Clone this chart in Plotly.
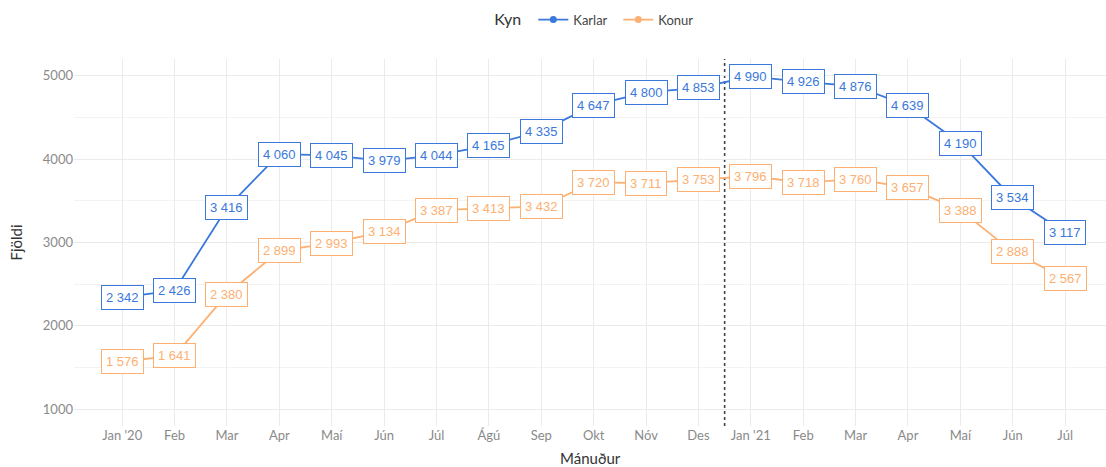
import plotly.graph_objects as go

months = ["Jan '20", "Feb", "Mar", "Apr", "Maí", "Jún", "Júl", "Ágú", "Sep", "Okt",
          "Nóv", "Des", "Jan '21", "Feb", "Mar", "Apr", "Maí", "Jún", "Júl"]
karlar = [2342, 2426, 3416, 4060, 4045, 3979, 4044, 4165, 4335, 4647, 4800, 4853,
          4990, 4926, 4876, 4639, 4190, 3534, 3117]
konur = [1576, 1641, 2380, 2899, 2993, 3134, 3387, 3413, 3432, 3720, 3711, 3753,
         3796, 3718, 3760, 3657, 3388, 2888, 2567]
y_ticks = [1000, 2000, 3000, 4000, 5000]

BLUE = "#3A78DB"
ORANGE = "#FDB072"

x = list(range(len(months)))


def fmt(v):
    return f"{v:,}".replace(",", " ")


fig = go.Figure()
for name, vals, col in [("Karlar", karlar, BLUE), ("Konur", konur, ORANGE)]:
    fig.add_trace(go.Scatter(x=x, y=vals, mode="lines+markers", name=name,
                             line=dict(color=col, width=1.8),
                             marker=dict(color=col, size=7)))

annotations = []
for vals, col in [(karlar, BLUE), (konur, ORANGE)]:
    for xi, v in zip(x, vals):
        annotations.append(dict(x=xi, y=v, xref="x", yref="y", text=fmt(v),
                                showarrow=False, bgcolor="white", bordercolor=col,
                                borderwidth=1, borderpad=4,
                                font=dict(family="Liberation Sans, Arial", size=13, color=col)))

annotations.append(dict(x=0.5, y=-0.087, xref="paper", yref="paper", text="Mánuður",
                        showarrow=False, xanchor="center", yanchor="middle",
                        font=dict(size=15, color="#333333")))

fig.add_shape(type="line", x0=11.5, x1=11.5, y0=0, y1=1, xref="x", yref="paper",
              line=dict(color="#444444", width=1.6, dash="dot"), layer="below")

fig.update_layout(
    width=1106, height=467,
    margin=dict(l=74, r=0, t=59, b=41, autoexpand=False),
    plot_bgcolor="white", paper_bgcolor="white",
    font=dict(family="Lato, sans-serif", color="#333333"),
    annotations=annotations,
    legend=dict(orientation="h", x=0.508, xanchor="center", y=0.99, yanchor="top",
                yref="container", entrywidth=40,
                title=dict(text="Kyn ", font=dict(size=16, color="#333333")),
                font=dict(size=13, color="#444444")),
    showlegend=True,
)

fig.update_xaxes(range=[-0.92, 18.78], tickvals=x, ticktext=months, showgrid=True,
                 gridcolor="#ebebeb", gridwidth=1.3, zeroline=False, showline=False,
                 ticks="", tickfont=dict(size=13, color="#8a8a8a"), automargin=False)
fig.update_yaxes(range=[800, 5200], tickvals=y_ticks, showgrid=True, gridcolor="#ebebeb",
                 gridwidth=1.3, zeroline=False, showline=False, ticks="", automargin=False,
                 tickfont=dict(size=13, color="#8a8a8a"),
                 minor=dict(dtick=500, tick0=500, showgrid=True, gridcolor="#f3f3f3", gridwidth=1),
                 title=dict(text="Fjöldi", font=dict(size=15, color="#333333"), standoff=16))

fig.write_html("out.html", config={"displayModeBar": False},
               post_script="document.body.style.margin='0';document.body.style.overflow='hidden';")
